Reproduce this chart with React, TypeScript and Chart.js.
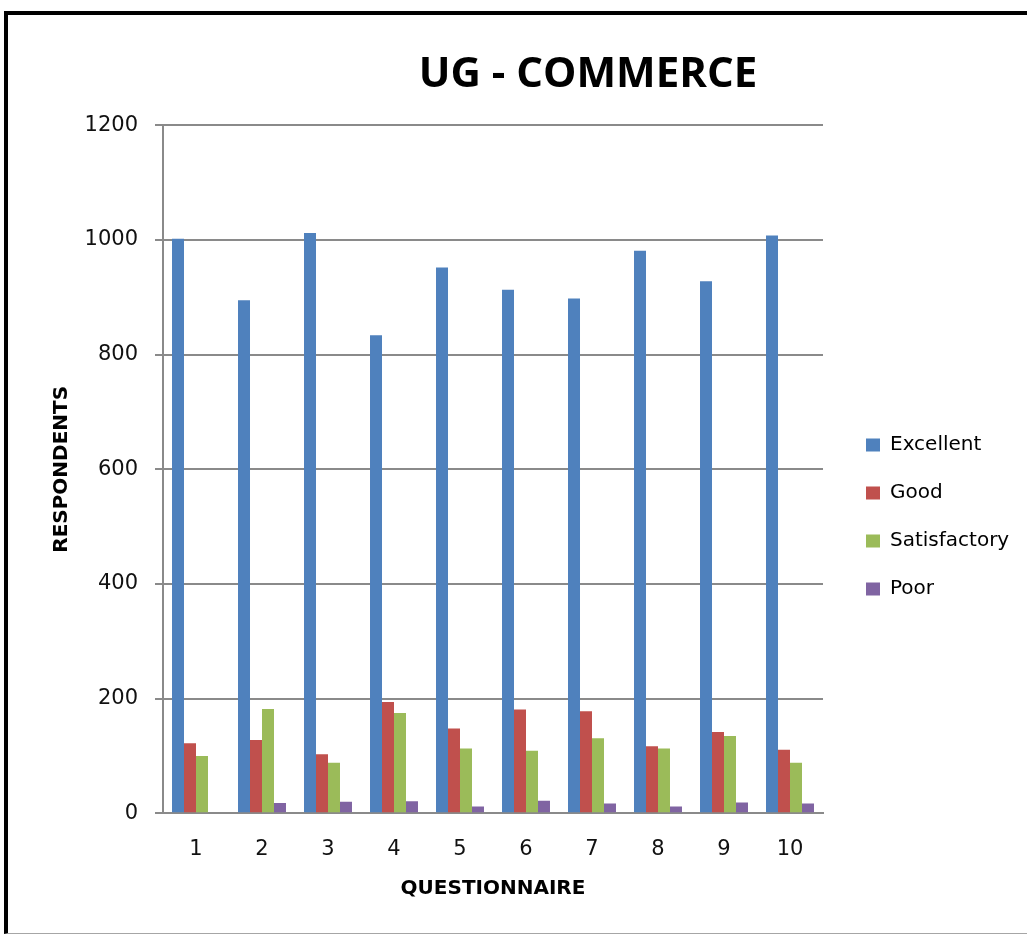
import React, { useEffect, useRef } from "react";
import { Chart, registerables } from "chart.js";

Chart.register(...registerables);

const chartTitle = "UG - COMMERCE";
const xTitle = "QUESTIONNAIRE";
const yTitle = "RESPONDENTS";
const categories = ["1", "2", "3", "4", "5", "6", "7", "8", "9", "10"];
const seriesNames = ["Excellent", "Good", "Satisfactory", "Poor"];
const excellent = [1002, 895, 1012, 834, 952, 913, 898, 981, 928, 1008];
const good = [122, 128, 103, 194, 148, 181, 178, 117, 142, 111];
const satisfactory = [100, 182, 88, 175, 113, 109, 131, 113, 135, 88];
const poor = [0, 18, 20, 21, 12, 22, 17, 12, 19, 17];
const yMin = 0;
const yMax = 1200;
const yStep = 200;

const colors = ["#4F81BD", "#C0504D", "#9BBB59", "#8064A2"];
const gridColor = "#8a8a8a";
const FONT = "DejaVu Sans";

const titlePlugin = {
  id: "customTitle",
  afterDraw(chart: any) {
    const ctx = chart.ctx;
    ctx.save();
    ctx.font = 'bold 42px "Open Sans"';
    ctx.fillStyle = "#000";
    ctx.textAlign = "center";
    ctx.textBaseline = "middle";
    ctx.fillText(chartTitle, 588, 75);
    ctx.restore();
  },
};

const legendWidthPlugin = {
  id: "legendWidth",
  beforeLayout(chart: any) {
    const lg = chart.legend;
    if (lg && !lg.__patched) {
      const orig = lg.fit.bind(lg);
      lg.fit = function () {
        orig();
        this.width = 189;
      };
      lg.__patched = true;
    }
  },
};

export default function App() {
  const ref = useRef<HTMLCanvasElement | null>(null);

  useEffect(() => {
    if (!ref.current) return;
    const series = [excellent, good, satisfactory, poor];
    const chart = new Chart(ref.current, {
      type: "bar",
      data: {
        labels: categories,
        datasets: series.map((d, i) => ({
          label: seriesNames[i],
          data: d,
          backgroundColor: colors[i],
          borderWidth: 0,
          categoryPercentage: 0.727,
          barPercentage: 1,
          yAxisID: "y",
        })),
      },
      options: {
        responsive: false,
        animation: false,
        devicePixelRatio: 1,
        layout: { padding: { left: 46, top: 125.3, bottom: 26.3, right: 0 } },
        plugins: {
          title: { display: false },
          tooltip: { enabled: false },
          legend: {
            position: "right",
            align: "center",
            labels: {
              font: { family: FONT, size: 20 },
              color: "#000",
              boxWidth: 14,
              boxHeight: 13,
              padding: 28,
            },
          },
        },
        scales: {
          x: {
            grid: { display: false, drawTicks: false },
            border: { display: true, color: gridColor, width: 2 },
            ticks: { font: { family: FONT, size: 21 }, color: "#111", padding: 24 },
            title: {
              display: true,
              text: xTitle,
              font: { family: FONT, size: 20, weight: "bold" },
              color: "#000",
              padding: { top: 4, bottom: 8 },
            },
            afterFit: (s: any) => {
              s.height = 95.4;
            },
          },
          y: {
            min: yMin,
            max: yMax,
            ticks: {
              stepSize: yStep,
              font: { family: FONT, size: 21 },
              color: "#111",
              padding: 17,
              callback: (v: any) => String(v),
            },
            grid: { color: gridColor, lineWidth: 2, tickLength: 8, drawTicks: true },
            border: { display: true, color: gridColor, width: 2 },
            title: {
              display: true,
              text: yTitle,
              font: { family: FONT, size: 20, weight: "bold" },
              color: "#000",
              padding: { top: 4, bottom: 4 },
            },
            afterFit: (s: any) => {
              s.width = 117;
            },
          },
          y2: {
            position: "right",
            display: true,
            grid: { display: false, drawTicks: false },
            border: { display: false },
            ticks: { display: false },
            afterFit: (s: any) => {
              s.width = 15;
            },
          },
        },
      },
      plugins: [titlePlugin, legendWidthPlugin],
    });
    return () => chart.destroy();
  }, []);

  return (
    <div style={{ position: "fixed", left: 0, top: 0, width: 1027, height: 935, background: "#fff", overflow: "hidden" }}>
      <div
        style={{
          position: "absolute",
          left: 4,
          top: 11,
          width: 1100,
          height: 923,
          boxSizing: "border-box",
          borderLeft: "4px solid #000",
          borderTop: "4px solid #000",
          borderBottom: "1px solid #a6a6a6",
        }}
      />
      <canvas ref={ref} width={1027} height={935} style={{ position: "absolute", left: 0, top: 0, width: 1027, height: 935 }} />
    </div>
  );
}
